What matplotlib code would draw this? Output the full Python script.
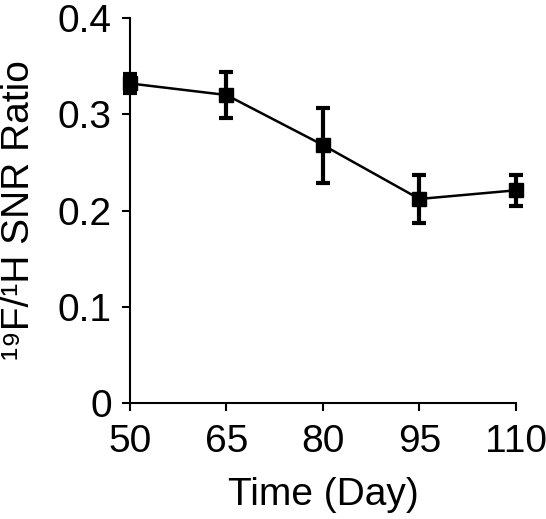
import matplotlib
matplotlib.use('Agg')
import matplotlib.pyplot as plt

plt.rcParams['font.family'] = ['Liberation Sans', 'DejaVu Sans']

days = [50, 65, 80, 95, 110]
snr_ratio = [0.332, 0.320, 0.268, 0.212, 0.221]
snr_err = [0.010, 0.024, 0.039, 0.025, 0.016]

fig = plt.figure(figsize=(5.46, 5.19), dpi=100)
ax = fig.add_axes([0.238, 0.2235, 0.707, 0.7418])

ax.errorbar(days, snr_ratio, yerr=snr_err, color='black', lw=1.8,
            marker='s', markersize=10, elinewidth=3, capsize=5, capthick=3,
            clip_on=False, zorder=3)

ax.set_xlim(50, 110)
ax.set_ylim(0, 0.4)
ax.set_xticks(days)
ax.set_yticks([0, 0.1, 0.2, 0.3, 0.4])
ax.set_yticklabels(['0', '0.1', '0.2', '0.3', '0.4'])

for side in ['top', 'right']:
    ax.spines[side].set_visible(False)
for side in ['left', 'bottom']:
    ax.spines[side].set_linewidth(1.5)

ax.tick_params(direction='out', length=6, width=1.5, labelsize=28)
ax.tick_params(axis='x', pad=9)
ax.tick_params(axis='y', pad=7)
ax.set_xlabel('Time (Day)', fontsize=28, labelpad=12)
ax.set_ylabel('\u00b9\u2079F/\u00b9H SNR Ratio', fontsize=28, labelpad=15)

plt.savefig('out.png', dpi=100)
